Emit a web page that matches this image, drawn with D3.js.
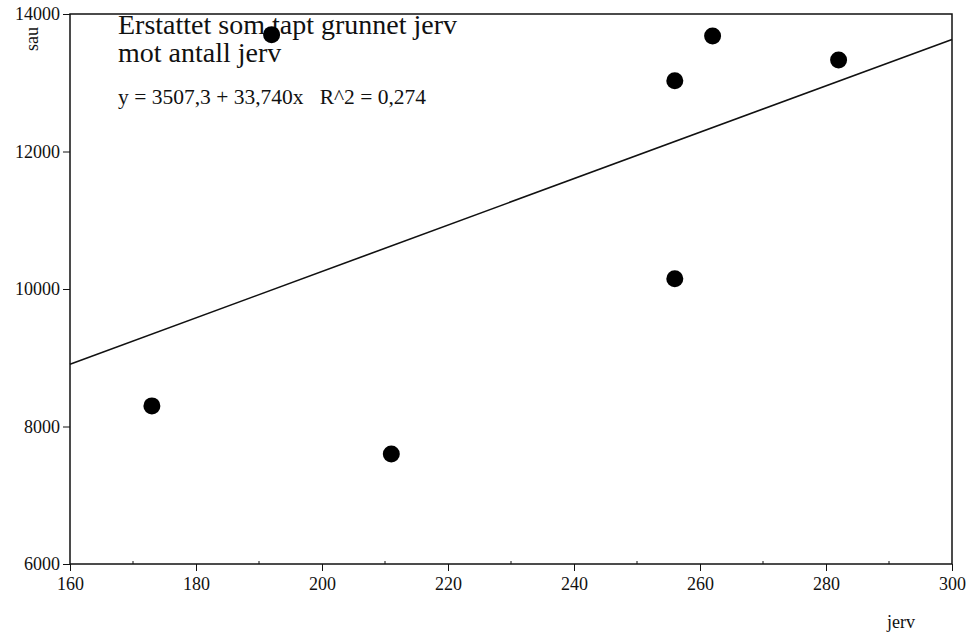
<html>
<head>
<meta charset="utf-8">
<title>Erstattet som tapt grunnet jerv</title>
<script src="https://d3js.org/d3.v7.min.js"></script>
<style>
  body { margin: 0; background: #fff; }
  text { font-family: "Liberation Serif", "DejaVu Serif", serif; fill: #111; }
</style>
</head>
<body>
<div id="chart"></div>
<script>
// data
var jerv = [173, 211, 192, 256, 256, 262, 282];
var sau  = [8300, 7600, 13700, 13030, 10150, 13680, 13330];
var xTicks = [160, 180, 200, 220, 240, 260, 280, 300];
var yTicks = [6000, 8000, 10000, 12000, 14000];
var fitIntercept = 3507.3, fitSlope = 33.740, fitR2 = 0.274;

var W = 970, H = 636;
var m = {left: 70, right: 18, top: 14, bottom: 72};

var svg = d3.select("#chart").append("svg")
  .attr("width", W).attr("height", H);

var x = d3.scaleLinear().domain([160, 300]).range([m.left, W - m.right]);
var y = d3.scaleLinear().domain([6000, 14000]).range([H - m.bottom, m.top]);

// frame
svg.append("rect")
  .attr("x", x(160)).attr("y", y(14000))
  .attr("width", x(300) - x(160)).attr("height", y(6000) - y(14000))
  .attr("fill", "none").attr("stroke", "#111").attr("stroke-width", 1.5);

// x axis
var xAxis = svg.append("g")
  .attr("transform", "translate(0," + y(6000) + ")")
  .call(d3.axisBottom(x).tickValues(xTicks).tickSize(7).tickPadding(6).tickFormat(d3.format("d")));
xAxis.select(".domain").remove();
xAxis.selectAll("text").style("font-size", "18px").attr("fill", "#111");
xAxis.selectAll("line").attr("stroke", "#111");

// minor x ticks
svg.append("g").selectAll("line")
  .data(d3.range(170, 300, 20))
  .join("line")
  .attr("x1", d => x(d)).attr("x2", d => x(d))
  .attr("y1", y(6000)).attr("y2", y(6000) - 3)
  .attr("stroke", "#111");

// y axis
var yAxis = svg.append("g")
  .attr("transform", "translate(" + x(160) + ",0)")
  .call(d3.axisLeft(y).tickValues(yTicks).tickSize(7).tickPadding(3).tickFormat(d3.format("d")));
yAxis.select(".domain").remove();
yAxis.selectAll("text").style("font-size", "18px").attr("fill", "#111");
yAxis.selectAll("line").attr("stroke", "#111");

// axis titles
svg.append("text")
  .attr("transform", "translate(38,39) rotate(-90)")
  .attr("text-anchor", "middle")
  .style("font-size", "18px")
  .text("sau");

svg.append("text")
  .attr("x", 901).attr("y", 628)
  .attr("text-anchor", "middle")
  .style("font-size", "18px")
  .text("jerv");

// regression line
var fit = function(v) { return fitIntercept + fitSlope * v; };
svg.append("line")
  .attr("x1", x(160)).attr("y1", y(fit(160)))
  .attr("x2", x(300)).attr("y2", y(fit(300)))
  .attr("stroke", "#111").attr("stroke-width", 1.6);

// title and equation
svg.append("text")
  .attr("x", 118).attr("y", 34)
  .style("font-size", "28px")
  .text("Erstattet som tapt grunnet jerv");
svg.append("text")
  .attr("x", 118).attr("y", 62)
  .style("font-size", "28px")
  .text("mot antall jerv");
svg.append("text")
  .attr("x", 118).attr("y", 104)
  .attr("xml:space", "preserve")
  .style("font-size", "21.5px")
  .text("y = 3507,3 + 33,740x   R^2 = " + String(fitR2).replace(".", ","));

// points
svg.append("g").selectAll("circle")
  .data(jerv.map((d, i) => [d, sau[i]]))
  .join("circle")
  .attr("cx", d => x(d[0]))
  .attr("cy", d => y(d[1]))
  .attr("r", 8.5)
  .attr("fill", "#000");
</script>
</body>
</html>
